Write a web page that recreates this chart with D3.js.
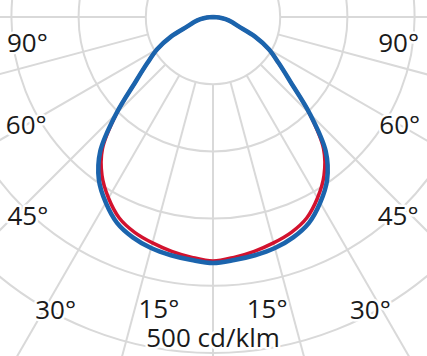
<!DOCTYPE html>
<html>
<head>
<meta charset="utf-8">
<script src="https://cdn.jsdelivr.net/npm/d3@7"></script>
<style>
  html, body { margin: 0; padding: 0; background: #fff; }
  svg { display: block; }
  .lbl { font-family: "Open Sans", sans-serif; font-size: 26px; fill: #1a1a1a;
         stroke: #fff; stroke-width: 5px; stroke-linejoin: round; paint-order: stroke; }
</style>
</head>
<body>
<div id="chart"></div>
<script>
// polar light distribution curve, cd/klm

// gamma angles (deg from nadir)
var gammas = [0, 5, 10, 15, 20, 25, 30, 35, 40, 45, 50, 55, 60, 65, 70, 75, 80, 85, 90];
// C0-C180 plane (red)
var planeC0 = [363, 359, 354, 348, 341, 330, 311, 288, 256, 203, 151, 119, 96, 69, 40, 29, 19, 9, 0];
// C90-C270 plane (blue)
var planeC90 = [366, 363, 360, 356, 349, 338, 319, 296, 261, 204, 151, 119, 96, 69, 40, 29, 19, 9, 0];

var rings = [100, 200, 300, 400, 500];
var spokes = [0, 15, 30, 45, 60, 75, 90];
var angleLabels = ["90°", "60°", "45°", "30°", "15°"];
var unitLabel = "500 cd/klm";

var width = 427, height = 356;
var cx = 213, cy = 17;

var svg = d3.select("#chart").append("svg")
    .attr("width", width)
    .attr("height", height);

var g = svg.append("g")
    .attr("transform", "translate(" + cx + "," + cy + ")");

var r = d3.scaleLinear().domain([0, 500]).range([0, 336]);
var rad = function(deg) { return deg * Math.PI / 180; };

// polar -> xy, gamma measured from straight down, side -1 left / +1 right
function xy(gamma, v, side) {
    var a = rad(gamma);
    return [side * r(v) * Math.sin(a), r(v) * Math.cos(a)];
}

// grid circles
g.append("g").selectAll("circle")
    .data(rings)
    .enter()
    .append("circle")
    .attr("r", d => r(d))
    .attr("fill", "none")
    .attr("stroke", "#d9d9d9")
    .attr("stroke-width", 2);

// spokes, only outside the first ring
var spokeData = [];
spokes.forEach(function(s) {
    spokeData.push({gamma: s, side: 1});
    if (s > 0) spokeData.push({gamma: s, side: -1});
});
g.append("g").selectAll("line")
    .data(spokeData)
    .enter()
    .append("line")
    .attr("x1", d => xy(d.gamma, rings[0], d.side)[0])
    .attr("y1", d => xy(d.gamma, rings[0], d.side)[1])
    .attr("x2", d => xy(d.gamma, 800, d.side)[0])
    .attr("y2", d => xy(d.gamma, 800, d.side)[1])
    .attr("stroke", "#d9d9d9")
    .attr("stroke-width", 2);

// both halves of a plane, left 90..0 then right 0..90
function planePoints(vals) {
    var pts = [];
    for (var i = gammas.length - 1; i > 0; i--) pts.push({a: Math.PI + rad(gammas[i]), v: vals[i]});
    pts.push({a: Math.PI, v: vals[0]});
    for (var j = 1; j < gammas.length; j++) pts.push({a: Math.PI - rad(gammas[j]), v: vals[j]});
    return pts;
}

var line = d3.lineRadial()
    .angle(d => d.a)
    .radius(d => r(d.v))
    .curve(d3.curveCatmullRom);

g.append("path")
    .attr("d", line(planePoints(planeC0)))
    .attr("fill", "none")
    .attr("stroke", "#d2122e")
    .attr("stroke-width", 3.5);

g.append("path")
    .attr("d", line(planePoints(planeC90)))
    .attr("fill", "none")
    .attr("stroke", "#1b64ad")
    .attr("stroke-width", 4.5);

// where the angle labels sit (gamma, radius in cd/klm)
var labelPos = [[82, 279], [60, 321], [43, 404], [28.3, 494], [10.5, 442]];

var labels = [];
angleLabels.forEach(function(t, i) {
    labels.push({t: t, p: xy(labelPos[i][0], labelPos[i][1], -1)});
    labels.push({t: t, p: xy(labelPos[i][0], labelPos[i][1], 1)});
});
labels.push({t: unitLabel, p: xy(0, 477, 1)});

g.append("g").selectAll("text")
    .data(labels)
    .enter()
    .append("text")
    .attr("class", "lbl")
    .attr("x", d => d.p[0])
    .attr("y", d => d.p[1])
    .attr("dy", "0.36em")
    .attr("text-anchor", "middle")
    .text(d => d.t);
</script>
</body>
</html>
